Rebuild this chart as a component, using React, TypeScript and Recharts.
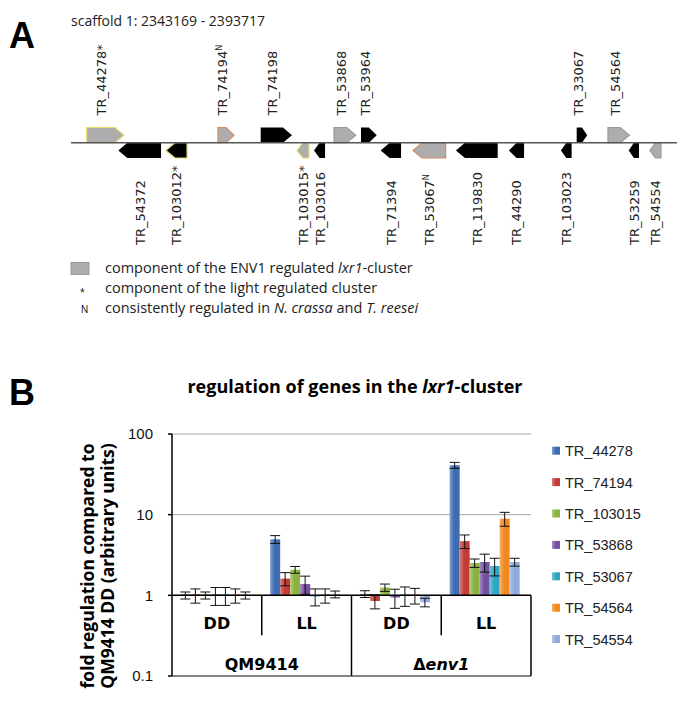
import React from "react";
import {
  BarChart,
  Bar,
  XAxis,
  YAxis,
  CartesianGrid,
  ErrorBar,
  ReferenceLine,
  ReferenceArea,
  Label,
  ComposedChart,
} from "recharts";

// ---------- panel A: gene map ----------
const scaffoldName = "scaffold 1";
const scaffoldStart = 2343169;
const scaffoldEnd = 2393717;
const scaffoldKb = (scaffoldEnd - scaffoldStart) / 1000;

// gene start / end in kb from scaffold start, strand +1 / -1
const geneIds = [
  "TR_44278", "TR_54372", "TR_103012", "TR_74194", "TR_74198", "TR_103015",
  "TR_103016", "TR_53868", "TR_53964", "TR_71394", "TR_53067", "TR_119830",
  "TR_44290", "TR_103023", "TR_33067", "TR_54564", "TR_53259", "TR_54554",
];
const geneStart = [1.31, 3.95, 7.92, 12.26, 15.82, 18.85, 20.27, 21.94, 24.19, 25.83, 28.53, 32.11, 36.53, 40.87, 42.18, 44.79, 46.52, 48.29];
const geneEnd = [4.42, 7.51, 9.68, 13.6, 18.43, 19.85, 21.19, 23.75, 25.5, 27.53, 31.25, 35.59, 37.79, 41.76, 43.06, 46.57, 47.38, 49.21];
const geneStrand = [1, -1, -1, 1, 1, -1, -1, 1, 1, -1, -1, -1, -1, -1, 1, 1, -1, -1];

const clusterGenes = ["TR_44278", "TR_74194", "TR_103015", "TR_53868", "TR_53067", "TR_54564", "TR_54554"];
const lightGenes = ["TR_44278", "TR_103012", "TR_103015"];
const conservedGenes = ["TR_74194", "TR_53067"];

const genes = geneIds.map((id, i) => ({
  id,
  start: geneStart[i],
  end: geneEnd[i],
  strand: geneStrand[i],
  mid: (geneStart[i] + geneEnd[i]) / 2,
}));

// ---------- panel B: qPCR ----------
const conditions = ["DD", "LL", "DD", "LL"];
const conditionStrain = ["QM9414", "QM9414", "Δenv1", "Δenv1"];
const strains = ["QM9414", "Δenv1"];

const seriesNames = ["TR_44278", "TR_74194", "TR_103015", "TR_53868", "TR_53067", "TR_54564", "TR_54554"];
const seriesColors = ["#3d6cb3", "#c23b36", "#8bb23e", "#7450a0", "#2ea6c2", "#f0891f", "#8eabd9"];

const tr44278 = [1, 4.95, 1.04, 41];
const tr44278Err = [0.1, 0.55, 0.1, 3.5];
const tr74194 = [1, 1.61, 0.85, 4.7];
const tr74194Err = [0.2, 0.3, 0.17, 0.9];
const tr103015 = [1, 2.08, 1.25, 2.52];
const tr103015Err = [0.1, 0.2, 0.13, 0.3];
const tr53868 = [1, 1.38, 0.94, 2.59];
const tr53868Err = [0.25, 0.35, 0.25, 0.65];
const tr53067 = [1, 0.97, 1.0, 2.31];
const tr53067Err = [0.25, 0.23, 0.27, 0.57];
const tr54564 = [1, 1.0, 1.0, 8.94];
const tr54564Err = [0.2, 0.2, 0.22, 1.75];
const tr54554 = [1, 1.03, 0.82, 2.59];
const tr54554Err = [0.1, 0.1, 0.1, 0.29];

const seriesValues = [tr44278, tr74194, tr103015, tr53868, tr53067, tr54564, tr54554];
const seriesErrors = [tr44278Err, tr74194Err, tr103015Err, tr53868Err, tr53067Err, tr54564Err, tr54554Err];
const yTicks = [0.1, 1, 10, 100];

const catKey = (i: number) => `${conditionStrain[i]} ${conditions[i]}`;

const barData = conditions.map((c, i) => {
  const row: Record<string, any> = { cat: catKey(i), condition: c };
  seriesNames.forEach((s, j) => {
    row[s] = seriesValues[j][i];
    row[`${s}_err`] = seriesErrors[j][i];
  });
  return row;
});

const lighten = (hex: string, amt: number) => {
  const n = parseInt(hex.slice(1), 16);
  const ch = [(n >> 16) & 255, (n >> 8) & 255, n & 255].map((c) => Math.round(c + (255 - c) * amt));
  return `rgb(${ch.join(",")})`;
};

const sans = "'Open Sans', sans-serif";
const arial = "'Liberation Sans', Arial, sans-serif";
const boldAxis = "'DejaVu Sans', sans-serif";

const GeneArrow = (props: any) => {
  const { x, y, width, height, gene } = props;
  const isCluster = clusterGenes.includes(gene.id);
  const isLight = lightGenes.includes(gene.id);
  const isConserved = conservedGenes.includes(gene.id);
  const head = Math.min(9, width * 0.5);
  const mid = y + height / 2;
  const pts =
    gene.strand > 0
      ? [[x, y], [x + width - head, y], [x + width, mid], [x + width - head, y + height], [x, y + height]]
      : [[x + width, y], [x + head, y], [x, mid], [x + head, y + height], [x + width, y + height]];
  const stroke = isLight ? "#e6dc6a" : isConserved ? "#d48c62" : isCluster ? "#999" : "none";
  const cx = x + width / 2;
  const labelX = gene.strand > 0 ? cx + 1 : cx + 5;
  const labelY = gene.strand > 0 ? y - 12 : y + height + 87;
  return (
    <g>
      <polygon
        points={pts.map((p) => p.join(",")).join(" ")}
        fill={isCluster ? "#adadad" : "#000"}
        stroke={stroke}
        strokeWidth={1.2}
      />
      <text
        transform={`translate(${labelX},${labelY}) rotate(-90)`}
        fontFamily="'DejaVu Sans', sans-serif"
        fontSize={13}
        fill="#222"
        textAnchor="start"
      >
        {gene.id}
        {isLight && "*"}
        {isConserved && (
          <tspan fontSize={8} dy={-5}>
            N
          </tspan>
        )}
      </text>
    </g>
  );
};

// cell under the x axis line: label + optional divider on its right edge
const AxisCell = (props: any) => {
  const { x, y, width, height, text, divider } = props;
  const delta = text.startsWith("Δ");
  return (
    <g>
      <text
        x={x + width / 2}
        y={y + height - 6.5}
        textAnchor="middle"
        fontFamily={boldAxis}
        fontWeight="bold"
        fontSize={16}
        fill="#000"
      >
        {delta ? (
          <>
            <tspan>Δ</tspan>
            <tspan fontStyle="italic">{text.slice(1)}</tspan>
          </>
        ) : (
          text
        )}
      </text>
      {divider && (
        <line x1={x + width} x2={x + width} y1={y} y2={y + height} stroke="#000" strokeWidth={1.5} />
      )}
    </g>
  );
};

const YTitle = (props: any) => {
  const { x, y, height } = props.viewBox;
  const cy = y + height / 2 + 11;
  const common = {
    textAnchor: "middle" as const,
    fontFamily: sans,
    fontWeight: "bold" as const,
    fontSize: 17.5,
    fill: "#000",
  };
  return (
    <g>
      <text transform={`translate(${x - 18},${cy}) rotate(-90)`} {...common}>
        fold regulation compared to
      </text>
      <text transform={`translate(${x + 2},${cy}) rotate(-90)`} {...common}>
        QM9414 DD (arbitrary units)
      </text>
    </g>
  );
};

export default function App() {
  return (
    <div style={{ position: "absolute", left: 0, top: 0, width: 685, height: 705, background: "#fff" }}>
      {/* Panel A */}
      <div style={{ position: "absolute", left: 0, top: 0 }}>
        <ComposedChart
          width={685}
          height={260}
          data={genes}
          margin={{ top: 127.5, right: 8, bottom: 102, left: 71 }}
        >
          <XAxis dataKey="mid" type="number" domain={[0, scaffoldKb]} hide allowDataOverflow />
          <YAxis type="number" domain={[-1, 1]} hide allowDataOverflow />
          <ReferenceLine y={0} stroke="#555" strokeWidth={1.5} />
          {genes.map((g) => (
            <ReferenceArea
              key={g.id}
              x1={g.start}
              x2={g.end}
              y1={g.strand > 0 ? 0 : -1}
              y2={g.strand > 0 ? 1 : 0}
              ifOverflow="visible"
              shape={(p: any) => <GeneArrow {...p} gene={g} />}
            />
          ))}
        </ComposedChart>
      </div>

      {/* Panel B */}
      <div style={{ position: "absolute", left: 0, top: 360 }}>
        <BarChart
          width={685}
          height={345}
          data={barData}
          margin={{ top: 74, right: 154, bottom: 29, left: 112 }}
          barCategoryGap={8.4}
          barGap={0}
        >
          <defs>
            {seriesColors.map((c, j) => (
              <linearGradient key={c} id={`barGrad${j}`} x1="0" y1="0" x2="1" y2="0">
                <stop offset="0%" stopColor={lighten(c, 0.35)} />
                <stop offset="45%" stopColor={c} />
                <stop offset="100%" stopColor={c} />
              </linearGradient>
            ))}
          </defs>
          <CartesianGrid vertical={false} stroke="#a8a8a8" />
          <XAxis dataKey="cat" hide height={0} />
          <YAxis
            scale="log"
            type="number"
            domain={[0.1, 100]}
            ticks={yTicks}
            allowDataOverflow
            width={60}
            axisLine={{ stroke: "#000", strokeWidth: 1.5 }}
            tickLine={{ stroke: "#000", strokeWidth: 1.5 }}
            tickSize={4}
            tickMargin={15}
            tick={{ fontFamily: arial, fontSize: 15, fill: "#111" }}
          >
            <Label content={<YTitle />} />
          </YAxis>
          {conditions.map((c, i) => (
            <ReferenceArea
              key={`c${i}`}
              x1={catKey(i)}
              x2={catKey(i)}
              y1={0.32}
              y2={1}
              ifOverflow="visible"
              shape={(p: any) => (
                <AxisCell {...p} text={c} divider={conditionStrain[i + 1] === conditionStrain[i]} />
              )}
            />
          ))}
          {strains.map((s) => {
            const idx = conditionStrain.map((cs, i) => (cs === s ? i : -1)).filter((i) => i >= 0);
            return (
              <ReferenceArea
                key={s}
                x1={catKey(idx[0])}
                x2={catKey(idx[idx.length - 1])}
                y1={0.1}
                y2={1}
                ifOverflow="visible"
                shape={(p: any) => <AxisCell {...p} text={s} divider />}
              />
            );
          })}
          <ReferenceLine y={0.1} stroke="#333" strokeWidth={1.2} />
          <ReferenceLine y={1} stroke="#000" strokeWidth={1.5} />
          {seriesNames.map((s, j) => (
            <Bar
              key={s}
              name={s}
              dataKey={(d: any) => [1, d[s]]}
              fill={`url(#barGrad${j})`}
              minPointSize={1}
              isAnimationActive={false}
            >
              <ErrorBar dataKey={`${s}_err`} direction="y" width={5} stroke="#111" strokeWidth={1} />
            </Bar>
          ))}
        </BarChart>
      </div>

      {/* text overlay */}
      <svg
        width={685}
        height={705}
        style={{ position: "absolute", left: 0, top: 0, pointerEvents: "none" }}
      >
        <text x={9} y={48} fontFamily={arial} fontWeight="bold" fontSize={36} fill="#000">
          A
        </text>
        <text x={71} y={26} fontFamily={sans} fontSize={14} fill="#222">
          {`${scaffoldName}: ${scaffoldStart} - ${scaffoldEnd}`}
        </text>
        <rect x={71} y={262.5} width={18} height={12} fill="#adadad" stroke="#999" />
        <text x={105} y={273} fontFamily={sans} fontSize={14.5} fill="#222">
          component of the ENV1 regulated <tspan fontStyle="italic">lxr1</tspan>-cluster
        </text>
        <text x={80} y={297} fontFamily={arial} fontSize={12} fill="#222">
          *
        </text>
        <text x={105} y={293} fontFamily={sans} fontSize={14.5} fill="#222">
          component of the light regulated cluster
        </text>
        <text x={81} y={313} fontFamily={arial} fontSize={10} fill="#222">
          N
        </text>
        <text x={105} y={313} fontFamily={sans} fontSize={14.5} fill="#222">
          consistently regulated in <tspan fontStyle="italic">N. crassa</tspan> and{" "}
          <tspan fontStyle="italic">T. reesei</tspan>
        </text>

        <text x={9} y={405} fontFamily={arial} fontWeight="bold" fontSize={36} fill="#000">
          B
        </text>
        <text x={355} y={393} textAnchor="middle" fontFamily={sans} fontWeight="bold" fontSize={18} fill="#000">
          regulation of genes in the <tspan fontStyle="italic">lxr1</tspan>-cluster
        </text>

        {seriesNames.map((s, j) => (
          <g key={s} transform={`translate(552,${450.7 + j * 31.4})`}>
            <rect x={0} y={-4} width={8} height={8} fill={`url(#barGrad${j})`} />
            <text x={13} y={5.5} fontFamily={arial} fontSize={14.5} fill="#222">
              {s}
            </text>
          </g>
        ))}
      </svg>
    </div>
  );
}
